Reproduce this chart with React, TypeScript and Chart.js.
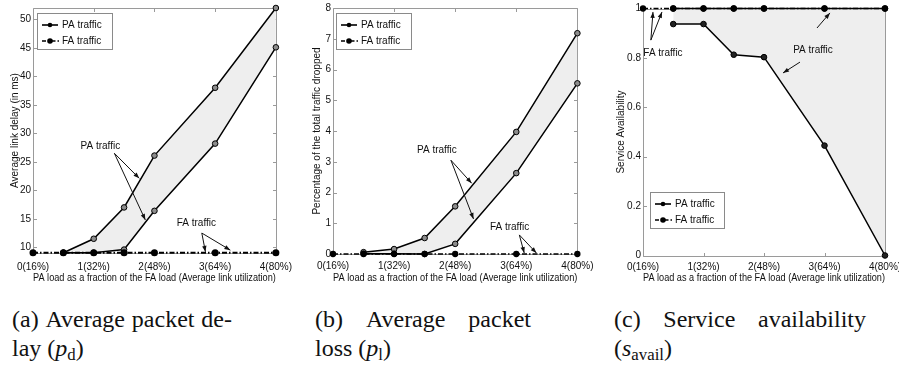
import React, { useEffect, useRef } from 'react';
import { Chart, registerables } from 'chart.js';

Chart.register(...registerables);

// ---------- data ----------
const xTickValues = [0, 1, 2, 3, 4];
const xTickLabels = ['0(16%)', '1(32%)', '2(48%)', '3(64%)', '4(80%)'];
const xTitle = 'PA load as a fraction of the FA load (Average link utilization)';
const paLoads = [0.5, 1, 1.5, 2, 3, 4];
const faLoads = [0, 0.5, 1, 1.5, 2, 3, 4];

// (a) average packet delay
const delayPaUpper = [9.05, 11.5, 17.0, 26.1, 38.0, 52.0];
const delayPaLower = [9.05, 9.05, 9.6, 16.4, 28.2, 45.1];
const delayFa = [9.05, 9.05, 9.05, 9.05, 9.05, 9.05, 9.05];
const delayYTicks = [10, 15, 20, 25, 30, 35, 40, 45, 50];
const delayYLabels = ['10', '15', '20', '25', '30', '35', '40', '45', '50'];

// (b) average packet loss
const lossPaUpper = [0.06, 0.16, 0.52, 1.55, 3.97, 7.18];
const lossPaLower = [0.01, 0.01, 0.0, 0.33, 2.63, 5.55];
const lossFa = [0, 0, 0, 0, 0, 0, 0];
const lossYTicks = [0, 1, 2, 3, 4, 5, 6, 7, 8];
const lossYLabels = ['0', '1', '2', '3', '4', '5', '6', '7', '8'];

// (c) service availability
const availPaUpper = [1, 1, 1, 1, 1, 1];
const availPaLower = [0.937, 0.937, 0.813, 0.803, 0.445, 0.0];
const availFa = [1, 1, 1, 1, 1, 1, 1];
const availYTicks = [0, 0.2, 0.4, 0.6, 0.8, 1];
const availYLabels = ['0', '0.2', '0.4', '0.6', '0.8', '1'];

const legendLabels = ['PA traffic', 'FA traffic'];

// ---------- fonts ----------
function hasFont(name: string): boolean {
  const c = document.createElement('canvas').getContext('2d');
  if (!c) return false;
  const s = 'mmmmmmmmmmlli WWW 0123 abcdef';
  c.font = '40px monospace';
  const a = c.measureText(s).width;
  c.font = `40px '${name}', monospace`;
  const b = c.measureText(s).width;
  return Math.abs(a - b) > 0.5;
}
const NARROW = hasFont('Liberation Sans Narrow');
const FAMILY = NARROW
  ? "'Liberation Sans Narrow', 'Liberation Sans', Arial, sans-serif"
  : "'Liberation Sans', Arial, sans-serif";
const FSIZE = NARROW ? 12 : 10;
const LH = FSIZE * 1.2;
const TEXT = '#111';
const FRAME = '#9a9a9a';
const SHADE = '#eeeeee';

// ---------- annotation / legend types ----------
type Note = { text: string; tx: number; ty: number; arrows: number[][] };
type LegendBox = { x: number; y: number; w: number; h: number };

const delayNotes: Note[] = [
  { text: 'PA traffic', tx: 1.11, ty: 27.7, arrows: [[1.34, 26.5, 1.75, 22.1], [1.34, 26.5, 1.85, 14.8]] },
  { text: 'FA traffic', tx: 2.69, ty: 14.25, arrows: [[2.78, 12.5, 2.84, 9.2], [2.78, 12.5, 3.25, 9.5]] },
];
const lossNotes: Note[] = [
  { text: 'PA traffic', tx: 1.7, ty: 3.38, arrows: [[1.93, 3.05, 2.27, 2.3], [1.93, 3.05, 2.3, 1.14]] },
  { text: 'FA traffic', tx: 2.89, ty: 0.88, arrows: [[3.05, 0.62, 3.13, 0.03], [3.05, 0.62, 3.33, 0.03]] },
];
const availNotes: Note[] = [
  { text: 'FA traffic', tx: 0.33, ty: 0.82, arrows: [[0.13, 0.872, 0.165, 0.986], [0.13, 0.872, 0.314, 0.986]] },
  { text: 'PA traffic', tx: 2.81, ty: 0.832, arrows: [[2.876, 0.921, 3.09, 0.982], [2.595, 0.783, 2.314, 0.739]] },
];

function drawArrow(ctx: CanvasRenderingContext2D, x1: number, y1: number, x2: number, y2: number) {
  ctx.beginPath();
  ctx.moveTo(x1, y1);
  ctx.lineTo(x2, y2);
  ctx.stroke();
  const ang = Math.atan2(y2 - y1, x2 - x1);
  const L = 6;
  const W = 2.2;
  const bx = x2 - L * Math.cos(ang);
  const by = y2 - L * Math.sin(ang);
  ctx.beginPath();
  ctx.moveTo(x2, y2);
  ctx.lineTo(bx + W * Math.sin(ang), by - W * Math.cos(ang));
  ctx.lineTo(bx - W * Math.sin(ang), by + W * Math.cos(ang));
  ctx.closePath();
  ctx.fill();
}

const decoPlugin = {
  id: 'deco',
  beforeDatasetsDraw(chart: any) {
    const ctx: CanvasRenderingContext2D = chart.ctx;
    const { left, right, top, bottom } = chart.chartArea;
    const xs = chart.scales.x;
    const ys = chart.scales.y;
    const l = Math.round(left) + 0.5;
    const r = Math.round(right) + 0.5;
    const t = Math.round(top) + 0.5;
    const b = Math.round(bottom) + 0.5;
    ctx.save();
    ctx.strokeStyle = FRAME;
    ctx.lineWidth = 1;
    ctx.beginPath();
    ctx.rect(l, t, r - l, b - t);
    ctx.stroke();
    const T = 3.5;
    ctx.beginPath();
    for (const tk of xs.ticks) {
      const px = Math.round(xs.getPixelForValue(tk.value)) + 0.5;
      ctx.moveTo(px, t);
      ctx.lineTo(px, t + T);
      ctx.moveTo(px, b);
      ctx.lineTo(px, b - T);
    }
    for (const tk of ys.ticks) {
      const py = Math.round(ys.getPixelForValue(tk.value)) + 0.5;
      ctx.moveTo(l, py);
      ctx.lineTo(l + T, py);
      ctx.moveTo(r, py);
      ctx.lineTo(r - T, py);
    }
    ctx.stroke();
    ctx.restore();
  },
  afterDatasetsDraw(chart: any, _args: any, opts: any) {
    const ctx: CanvasRenderingContext2D = chart.ctx;
    const xs = chart.scales.x;
    const ys = chart.scales.y;
    ctx.save();
    ctx.font = `${FSIZE}px ${FAMILY}`;
    ctx.fillStyle = TEXT;
    ctx.strokeStyle = TEXT;
    ctx.lineWidth = 1;
    ctx.textAlign = 'center';
    ctx.textBaseline = 'middle';
    const notes: Note[] = opts.notes || [];
    for (const n of notes) {
      ctx.fillText(n.text, xs.getPixelForValue(n.tx), ys.getPixelForValue(n.ty));
      for (const a of n.arrows) {
        drawArrow(
          ctx,
          xs.getPixelForValue(a[0]), ys.getPixelForValue(a[1]),
          xs.getPixelForValue(a[2]), ys.getPixelForValue(a[3])
        );
      }
    }
    const lg: LegendBox = opts.legend;
    if (lg) {
      ctx.fillStyle = '#fff';
      ctx.fillRect(lg.x, lg.y, lg.w, lg.h);
      ctx.strokeStyle = '#8a8a8a';
      ctx.lineWidth = 1;
      ctx.strokeRect(lg.x + 0.5, lg.y + 0.5, lg.w, lg.h);
      const rows = [lg.y + 12, lg.y + 28];
      ctx.strokeStyle = '#000';
      ctx.fillStyle = '#000';
      ctx.lineWidth = 1.6;
      // PA row
      ctx.beginPath();
      ctx.moveTo(lg.x + 5, rows[0]);
      ctx.lineTo(lg.x + 21, rows[0]);
      ctx.stroke();
      ctx.beginPath();
      ctx.arc(lg.x + 13, rows[0], 2.3, 0, Math.PI * 2);
      ctx.fill();
      // FA row
      ctx.setLineDash([4, 2, 1.5, 2]);
      ctx.beginPath();
      ctx.moveTo(lg.x + 5, rows[1]);
      ctx.lineTo(lg.x + 23, rows[1]);
      ctx.stroke();
      ctx.setLineDash([]);
      ctx.beginPath();
      ctx.arc(lg.x + 13, rows[1], 2.8, 0, Math.PI * 2);
      ctx.fill();
      ctx.fillStyle = TEXT;
      ctx.textAlign = 'left';
      ctx.fillText(legendLabels[0], lg.x + 25, rows[0]);
      ctx.fillText(legendLabels[1], lg.x + 25, rows[1]);
    }
    ctx.restore();
  },
};

// ---------- panels ----------
type Panel = {
  cl: number;
  cw: number;
  area: { left: number; right: number; top: number; bottom: number };
  yMin: number;
  yMax: number;
  yTicks: number[];
  yLabels: string[];
  yTitle: string;
  yTitleX: number;
  xTickCenter: number;
  paUpper: number[];
  paLower: number[];
  fa: number[];
  upperOnTop: boolean;
  paPointFill: string;
  faWidth: number;
  notes: Note[];
  legend: LegendBox;
};

const CH = 290;

const panels: Panel[] = [
  {
    cl: 0, cw: 300,
    area: { left: 33, right: 278, top: 8, bottom: 253 },
    yMin: 9, yMax: 52, yTicks: delayYTicks, yLabels: delayYLabels,
    yTitle: 'Average link delay (in ms)', yTitleX: 15, xTickCenter: 267,
    paUpper: delayPaUpper, paLower: delayPaLower, fa: delayFa, upperOnTop: true,
    paPointFill: '#8c8c8c', faWidth: 2,
    notes: delayNotes, legend: { x: 37, y: 13, w: 75, h: 36 },
  },
  {
    cl: 300, cw: 300,
    area: { left: 33, right: 282, top: 8, bottom: 254 },
    yMin: 0, yMax: 8, yTicks: lossYTicks, yLabels: lossYLabels,
    yTitle: 'Percentage of the total traffic dropped', yTitleX: 17, xTickCenter: 266.5,
    paUpper: lossPaUpper, paLower: lossPaLower, fa: lossFa, upperOnTop: true,
    paPointFill: '#8c8c8c', faWidth: 1.3,
    notes: lossNotes, legend: { x: 36, y: 13, w: 75, h: 36 },
  },
  {
    cl: 600, cw: 320,
    area: { left: 43, right: 285, top: 8.5, bottom: 255.5 },
    yMin: 0, yMax: 1, yTicks: availYTicks, yLabels: availYLabels,
    yTitle: 'Service Availability', yTitleX: 21, xTickCenter: 267.5,
    paUpper: availPaUpper, paLower: availPaLower, fa: availFa, upperOnTop: false,
    paPointFill: '#222', faWidth: 1.3,
    notes: availNotes, legend: { x: 50, y: 192, w: 74, h: 36 },
  },
];

const pts = (xs: number[], ys: number[]) => xs.map((x, i) => ({ x, y: ys[i] }));

function buildConfig(p: Panel): any {
  const font = { family: FAMILY, size: FSIZE };
  const paBase = {
    label: legendLabels[0],
    borderColor: '#000',
    borderWidth: 1.5,
    pointRadius: 2.8,
    pointBackgroundColor: p.paPointFill,
    pointBorderColor: '#000',
    pointBorderWidth: 1,
    tension: 0,
    clip: false,
  };
  const faSet = {
    label: legendLabels[1],
    data: pts(faLoads, p.fa),
    borderColor: '#000',
    borderWidth: p.faWidth,
    borderDash: [5, 2, 1.5, 2],
    pointRadius: 2.5,
    pointBackgroundColor: '#000',
    pointBorderColor: '#000',
    fill: false,
    tension: 0,
    clip: false,
  };
  const datasets = p.upperOnTop
    ? [
        faSet,
        { ...paBase, data: pts(paLoads, p.paLower), fill: false },
        { ...paBase, data: pts(paLoads, p.paUpper), fill: 1, backgroundColor: SHADE },
      ]
    : [
        faSet,
        { ...paBase, data: pts(paLoads, p.paUpper), fill: false },
        { ...paBase, data: pts(paLoads, p.paLower), fill: 1, backgroundColor: SHADE },
      ];
  return {
    type: 'line',
    data: { datasets },
    options: {
      animation: false,
      responsive: false,
      maintainAspectRatio: false,
      events: [],
      layout: { padding: { left: 0, top: p.area.top, right: p.cw - p.area.right, bottom: 0 } },
      plugins: {
        legend: { display: false },
        tooltip: { enabled: false },
        deco: { notes: p.notes, legend: p.legend },
      },
      scales: {
        x: {
          type: 'linear',
          min: 0,
          max: 4,
          afterBuildTicks: (s: any) => {
            s.ticks = xTickValues.map((v) => ({ value: v }));
          },
          ticks: {
            callback: (_v: any, i: number) => xTickLabels[i],
            padding: p.xTickCenter - p.area.bottom - LH / 2,
            maxRotation: 0,
            autoSkip: false,
            font,
            color: TEXT,
          },
          grid: { display: false, drawTicks: false },
          border: { display: false },
          title: {
            display: true,
            text: xTitle,
            font,
            color: TEXT,
            padding: { top: 0, bottom: CH - 278 - LH / 2 },
          },
          afterFit: (s: any) => {
            s.height = CH - p.area.bottom;
          },
        },
        y: {
          type: 'linear',
          min: p.yMin,
          max: p.yMax,
          afterBuildTicks: (s: any) => {
            s.ticks = p.yTicks.map((v) => ({ value: v }));
          },
          ticks: {
            callback: (_v: any, i: number) => p.yLabels[i],
            padding: 2,
            font,
            color: TEXT,
          },
          grid: { display: false, drawTicks: false },
          border: { display: false },
          title: {
            display: true,
            text: p.yTitle,
            font,
            color: TEXT,
            padding: { top: p.yTitleX - LH / 2, bottom: 0 },
          },
          afterFit: (s: any) => {
            s.width = p.area.left;
          },
        },
      },
    },
    plugins: [decoPlugin],
  };
}

function PanelChart({ p }: { p: Panel }) {
  const ref = useRef<HTMLCanvasElement>(null);
  useEffect(() => {
    if (!ref.current) return;
    const chart = new Chart(ref.current, buildConfig(p));
    return () => chart.destroy();
  }, [p]);
  return (
    <canvas
      ref={ref}
      width={p.cw}
      height={CH}
      style={{ position: 'absolute', left: p.cl, top: 0, width: p.cw, height: CH, display: 'block' }}
    />
  );
}

// ---------- captions ----------
const SERIF = "'Liberation Serif', 'Times New Roman', serif";

function CaptionLine1({ left, right, words }: { left: number; right: number; words: string[] }) {
  return (
    <div
      style={{
        position: 'absolute',
        left,
        top: 303,
        width: right - left,
        height: 32,
        display: 'flex',
        justifyContent: 'space-between',
        alignItems: 'center',
        font: `24px ${SERIF}`,
        color: '#111',
        whiteSpace: 'nowrap',
      }}
    >
      {words.map((w, i) => (
        <span key={i}>{w}</span>
      ))}
    </div>
  );
}

function CaptionLine2({ left, children }: { left: number; children: React.ReactNode }) {
  return (
    <div
      style={{
        position: 'absolute',
        left,
        top: 335,
        height: 32,
        lineHeight: '32px',
        font: `24px ${SERIF}`,
        color: '#111',
        whiteSpace: 'nowrap',
      }}
    >
      {children}
    </div>
  );
}

const subStyle: React.CSSProperties = { fontSize: '70%', verticalAlign: '-0.25em', fontStyle: 'normal' };

export default function App() {
  return (
    <div
      style={{
        position: 'fixed',
        left: 0,
        top: 0,
        width: 899,
        height: 381,
        overflow: 'hidden',
        background: '#fff',
      }}
    >
      {panels.map((p, i) => (
        <PanelChart key={i} p={p} />
      ))}
      <CaptionLine1 left={12} right={232} words={['(a)', 'Average', 'packet', 'de-']} />
      <CaptionLine1 left={315} right={531} words={['(b)', 'Average', 'packet']} />
      <CaptionLine1 left={614} right={866} words={['(c)', 'Service', 'availability']} />
      <CaptionLine2 left={12}>
        lay (<i>p</i>
        <span style={subStyle}>d</span>)
      </CaptionLine2>
      <CaptionLine2 left={315}>
        loss (<i>p</i>
        <span style={subStyle}>l</span>)
      </CaptionLine2>
      <CaptionLine2 left={614}>
        (<i>s</i>
        <span style={subStyle}>avail</span>)
      </CaptionLine2>
    </div>
  );
}
